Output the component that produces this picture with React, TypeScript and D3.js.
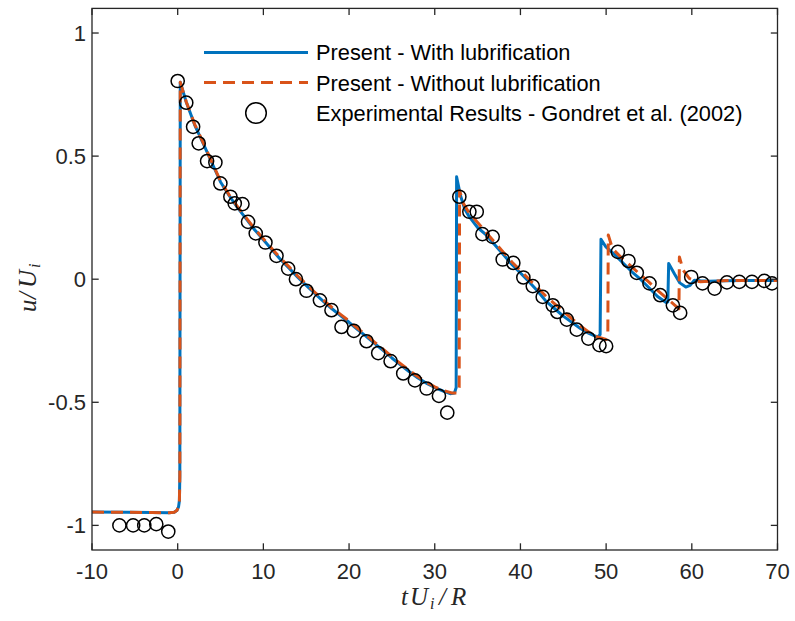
import React from "react";
import * as d3 from "d3";

type P = [number, number];

const xTicks = [-10, 0, 10, 20, 30, 40, 50, 60, 70];
const yTicks = [-1, -0.5, 0, 0.5, 1];
const yTickLabels = ["-1", "-0.5", "0", "0.5", "1"];
const xTickLabels = ["-10", "0", "10", "20", "30", "40", "50", "60", "70"];

const legendLabels = [
  "Present - With lubrification",
  "Present - Without lubrification",
  "Experimental Results - Gondret et al. (2002)",
];

const withLubrication: P[] = [
  [-10, -0.946], [-6, -0.947], [-3, -0.948], [-1, -0.949], [-0.4, -0.947], [-0.1, -0.94], [0.1, -0.925], [0.2, -0.9], [0.25, -0.8],
  [0.3, 0.8], [1, 0.72], [2, 0.625], [3, 0.55], [4, 0.472], [5, 0.395], [6, 0.34], [7, 0.29], [8, 0.245], [9, 0.2], [10, 0.16],
  [11, 0.12], [12, 0.08], [13, 0.045], [14, 0.008], [15, -0.025], [16, -0.058], [17, -0.09], [18, -0.12], [19, -0.148],
  [20, -0.175], [21, -0.205], [22, -0.232], [23, -0.262], [24, -0.29], [25, -0.32], [26, -0.348], [27, -0.375], [28, -0.4],
  [29, -0.422], [30, -0.44], [31, -0.455], [31.8, -0.465], [32.3, -0.462], [32.5, -0.44],
  [32.55, 0.416], [33, 0.34], [33.5, 0.285], [34, 0.255], [35, 0.21], [36, 0.18], [37, 0.14], [38, 0.1], [39, 0.06], [40, 0.025],
  [41, -0.01], [42, -0.048], [43, -0.09], [44, -0.12], [45, -0.15], [46, -0.175], [47, -0.2], [48, -0.22], [49, -0.235], [49.3, -0.225],
  [49.4, 0.162], [50, 0.13], [51, 0.1], [52, 0.065], [53, 0.03], [54, 0.0], [55, -0.035], [56, -0.07], [57, -0.095], [57.2, -0.092],
  [57.3, 0.064], [58, 0.02], [58.6, -0.015], [59.3, -0.032], [59.8, -0.025], [60.3, -0.004], [61, -0.006], [62, -0.008],
  [64, -0.006], [66, -0.005], [68, -0.005], [70, -0.005],
];

const withoutLubrication: P[] = [
  [-10, -0.946], [-6, -0.947], [-3, -0.948], [-1, -0.949], [-0.4, -0.947], [-0.1, -0.94], [0.1, -0.925], [0.2, -0.9], [0.25, -0.8],
  [0.3, 0.8], [1, 0.72], [2, 0.628], [3, 0.553], [4, 0.475], [5, 0.398], [6, 0.343], [7, 0.294], [8, 0.249], [9, 0.204], [10, 0.164],
  [11, 0.124], [12, 0.085], [13, 0.05], [14, 0.013], [15, -0.02], [16, -0.053], [17, -0.085], [18, -0.115], [19, -0.143],
  [20, -0.17], [21, -0.2], [22, -0.227], [23, -0.257], [24, -0.285], [25, -0.315], [26, -0.343], [27, -0.37], [28, -0.395],
  [29, -0.418], [30, -0.437], [31, -0.452], [32, -0.462], [32.7, -0.462], [32.85, -0.44],
  [32.9, 0.36], [33.3, 0.31], [34, 0.27], [35, 0.23], [36, 0.19], [37, 0.15], [38, 0.11], [39, 0.07], [40, 0.035],
  [41, 0.0], [42, -0.035], [43, -0.07], [44, -0.1], [45, -0.13], [46, -0.16], [47, -0.19], [48, -0.215], [49, -0.235], [50, -0.245], [50.2, -0.22],
  [50.25, 0.18], [50.6, 0.14], [51, 0.115], [52, 0.08], [53, 0.05], [54, 0.018], [55, -0.012], [56, -0.045], [57, -0.075], [58, -0.105], [58.5, -0.12],
  [58.55, 0.09], [59, 0.037], [59.7, 0.003], [60.3, -0.006], [61, -0.01], [62, -0.008], [65, -0.005], [70, -0.005],
];

const experimental: P[] = [
  [-6.8, -1.0], [-5.2, -1.0], [-3.9, -1.0], [-2.5, -0.995], [-1.1, -1.025],
  [0, 0.805], [1.0, 0.717], [1.8, 0.619], [2.45, 0.552], [3.43, 0.48], [4.4, 0.474], [4.98, 0.389], [6.15, 0.335], [6.66, 0.308],
  [7.56, 0.305], [8.21, 0.233], [9.11, 0.186], [10.24, 0.149], [11.53, 0.095], [12.89, 0.043], [13.8, 0.0], [15.03, -0.047],
  [16.6, -0.086], [17.95, -0.126], [19.12, -0.194], [20.56, -0.21], [22.04, -0.252], [23.4, -0.3], [24.85, -0.333], [26.32, -0.383],
  [27.69, -0.411], [29.05, -0.444], [30.49, -0.474], [31.46, -0.542],
  [32.87, 0.335], [34.04, 0.274], [34.9, 0.274], [35.56, 0.183], [36.76, 0.172], [37.93, 0.08], [39.17, 0.066], [40.34, 0.007],
  [41.44, -0.028], [42.6, -0.072], [43.77, -0.106], [44.31, -0.133], [45.41, -0.164], [46.57, -0.205], [47.93, -0.241], [49.22, -0.268], [50.0, -0.272],
  [51.37, 0.111], [52.61, 0.074], [53.58, 0.026], [55.06, -0.017], [56.31, -0.065], [57.79, -0.106], [58.64, -0.137],
  [59.93, 0.009], [61.25, -0.017], [62.66, -0.038], [64.1, -0.013], [65.54, -0.011], [67.02, -0.011], [68.46, -0.007], [69.36, -0.017],
];

const W = 795;
const H = 621;
const L = 92, R = 777.5, T = 8.4, B = 550;
const BLUE = "#0072BD";
const ORANGE = "#D95319";
const AX = "#262626";
const FONT = "'Liberation Sans', Arial, Helvetica, sans-serif";
const SERIF = "'Liberation Serif', 'DejaVu Serif', 'Times New Roman', serif";

export default function App() {
  const x = d3.scaleLinear().domain([-10, 70]).range([L, R]);
  const y = d3.scaleLinear().domain([-1.1, 1.1]).range([B, T]);
  const line = d3.line<P>().x((d) => x(d[0])).y((d) => y(d[1]));
  const tick = 6.7;

  return (
    <svg width={W} height={H} style={{ position: "absolute", left: 0, top: 0, background: "#fff" }}>
      <rect x={0} y={0} width={W} height={H} fill="#fff" />
      <defs>
        <clipPath id="plot">
          <rect x={L} y={T} width={R - L} height={B - T} />
        </clipPath>
      </defs>
      <g clipPath="url(#plot)">
        <path d={line(withLubrication) || ""} fill="none" stroke={BLUE} strokeWidth={3} strokeLinejoin="round" />
        <path d={line(withoutLubrication) || ""} fill="none" stroke={ORANGE} strokeWidth={3} strokeDasharray="12,7" strokeLinejoin="round" />
        {experimental.map((d, i) => (
          <circle key={i} cx={x(d[0])} cy={y(d[1])} r={6.6} fill="none" stroke="#000" strokeWidth={1.5} />
        ))}
      </g>
      <rect x={L} y={T} width={R - L} height={B - T} fill="none" stroke={AX} strokeWidth={1.3} />
      {xTicks.map((t, i) => (
        <g key={"xt" + i}>
          <line x1={x(t)} x2={x(t)} y1={B} y2={B - tick} stroke={AX} strokeWidth={1.3} />
          <line x1={x(t)} x2={x(t)} y1={T} y2={T + tick} stroke={AX} strokeWidth={1.3} />
          <text x={x(t)} y={579} textAnchor="middle" fontFamily={FONT} fontSize={22} fill={AX}>
            {xTickLabels[i]}
          </text>
        </g>
      ))}
      {yTicks.map((t, i) => (
        <g key={"yt" + i}>
          <line x1={L} x2={L + tick} y1={y(t)} y2={y(t)} stroke={AX} strokeWidth={1.3} />
          <line x1={R} x2={R - tick} y1={y(t)} y2={y(t)} stroke={AX} strokeWidth={1.3} />
          <text x={86} y={y(t) + 7.8} textAnchor="end" fontFamily={FONT} fontSize={22} fill={AX}>
            {yTickLabels[i]}
          </text>
        </g>
      ))}
      {/* x axis label: tU_i/R */}
      <g fontFamily={SERIF} fontStyle="italic" fill={AX}>
        <text x={401} y={605} fontSize={25}>t</text>
        <text x={410} y={605} fontSize={25}>U</text>
        <text x={430} y={609} fontSize={16}>i</text>
        <text x={439} y={605} fontSize={25}>/</text>
        <text x={451} y={605} fontSize={25}>R</text>
      </g>
      {/* y axis label: u/U_i */}
      <g transform="translate(36,312) rotate(-90)" fontFamily={SERIF} fontStyle="italic" fill={AX}>
        <text x={0} y={0} fontSize={25}>u</text>
        <text x={13} y={0} fontSize={25}>/</text>
        <text x={24} y={0} fontSize={25}>U</text>
        <text x={44} y={4} fontSize={16}>i</text>
      </g>
      {/* legend */}
      <line x1={204} x2={308} y1={52.5} y2={52.5} stroke={BLUE} strokeWidth={3} />
      <line x1={204} x2={308} y1={82.5} y2={82.5} stroke={ORANGE} strokeWidth={3} strokeDasharray="12,7" />
      <circle cx={256} cy={113} r={10.3} fill="none" stroke="#000" strokeWidth={1.5} />
      {legendLabels.map((s, i) => (
        <text key={s} x={316} y={52.5 + i * 30.3 + 7.8} fontFamily={FONT} fontSize={21.8} fill="#000">
          {s}
        </text>
      ))}
    </svg>
  );
}
